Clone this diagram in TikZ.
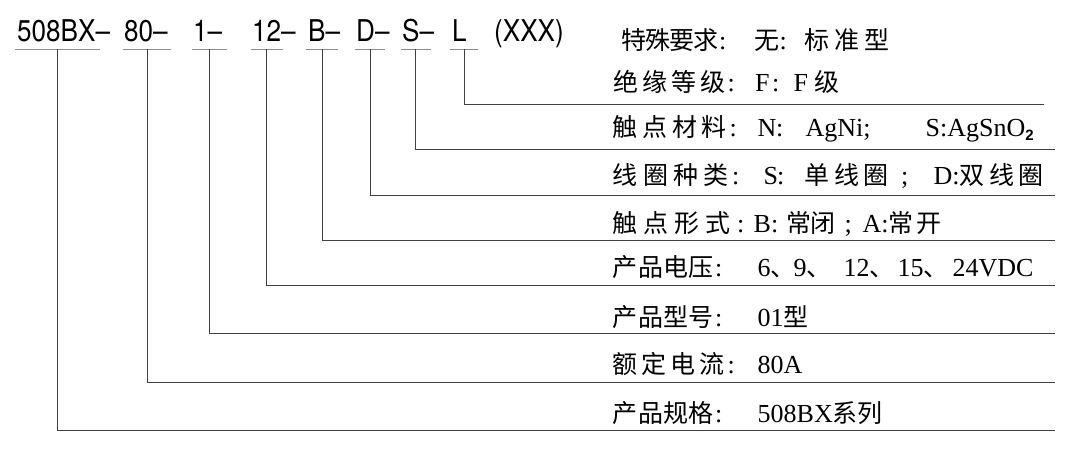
\documentclass[tikz,border=0pt]{standalone}
\usepackage{fontspec}
\setmainfont{Liberation Serif}
\newfontfamily\cjk{Noto Sans CJK SC}
\newfontfamily\hdrfont[FakeStretch=0.87]{TeX Gyre Heros}
\newfontfamily\lsans{Liberation Sans}
\newcommand\C[1]{{\cjk\fontsize{25}{25}\selectfont #1}}
\newcommand\at[2]{\rlap{\hspace*{#1pt}#2}}
\makeatletter
\def\spl#1#2{\def\spl@p{#1}\spl@x#2\relax}
\def\spl@x#1{\ifx\relax#1\else\rlap{\C{#1}}\hspace*{\spl@p pt}\expandafter\spl@x\fi}
\makeatother
\newcommand\subtwo{\raisebox{-4pt}{\lsans\bfseries\fontsize{15}{15}\selectfont 2}}
\tikzset{
  hdr/.style={anchor=base west, inner sep=0pt, font=\hdrfont\fontsize{30}{30}\selectfont},
  lbl/.style={anchor=base west, inner sep=0pt, font=\fontsize{26}{26}\selectfont},
  uline/.style={draw=black!45, line width=1.5pt},
  conn/.style={draw=black!75, line width=1pt}
}
\begin{document}
\begin{tikzpicture}[x=1pt,y=-1pt]
\useasboundingbox (0,0) rectangle (1088,454);
% header tokens
\node[hdr] (h1) at (17,42)  {508BX–};
\node[hdr] (h2) at (124,42) {80–};
\node[hdr] (h3) at (193,42) {1–};
\node[hdr] (h4) at (252,42) {12–};
\node[hdr] (h5) at (308,42) {B–};
\node[hdr] (h6) at (356,42) {D–};
\node[hdr] (h7) at (402,42) {S–};
\node[hdr] (h8) at (452,42) {L};
\node[hdr] (h9) at (494,42) {(XXX)};
% underlines
\draw[uline] (14.5,49.5) -- (100,49.5);
\draw[uline] (122.5,49.5) -- (170.7,49.5);
\draw[uline] (192,49.5) -- (226.5,49.5);
\draw[uline] (251,49.5) -- (283,49.5);
\draw[uline] (306,49.5) -- (338,49.5);
\draw[uline] (355,49.5) -- (385,49.5);
\draw[uline] (401,49.5) -- (431,49.5);
\draw[uline] (450,49.5) -- (478,49.5);
% underline centres
\coordinate (u1) at (57.5,49.5);
\coordinate (u2) at (147,49.5);
\coordinate (u3) at (209,49.5);
\coordinate (u4) at (266.4,49.5);
\coordinate (u5) at (322,49.5);
\coordinate (u6) at (370,49.5);
\coordinate (u7) at (415.6,49.5);
\coordinate (u8) at (464.6,49.5);
% line ends
\coordinate (e8) at (1044,104.5);
\coordinate (e7) at (1055,150);
\coordinate (e6) at (1055,196);
\coordinate (e5) at (1055,240.7);
\coordinate (e4) at (1055,286);
\coordinate (e3) at (1055,334);
\coordinate (e2) at (1055,382.7);
\coordinate (e1) at (1055,431);
\foreach \i in {1,...,8} { \draw[conn] (u\i) |- (e\i); }
% labels
\node[lbl] (r1) at (620.5,50) {\at{0}{\spl{24}{特殊要求}}\at{98}{:}\at{133.5}{\C{无}}\at{158.5}{:}\at{183.5}{\spl{30}{标准型}}};
\node[lbl] (r2) at (612.5,91.7) {\at{0}{\spl{29}{绝缘等级}}\at{114.5}{:}\at{142}{F}\at{159}{:}\at{180.5}{F}\at{201.5}{\C{级}}};
\node[lbl] (r3) at (612,136.7) {\at{0}{\spl{29.7}{触点材料}}\at{117}{:}\at{145}{N}\at{163.5}{:}\at{193}{AgNi;}\at{313}{S:AgSnO\subtwo}};
\node[lbl] (r4) at (612,185) {\at{0}{\spl{30.3}{线圈种类}}\at{119.5}{:}\at{151}{S}\at{164.5}{:}\at{192}{\spl{29.5}{单线圈}}\at{288.5}{;}\at{321}{D:\spl{29.5}{双线圈}}};
\node[lbl] (r5) at (612,233) {\at{0}{\spl{31}{触点形式}}\at{124.5}{:}\at{141}{B:}\at{174}{\spl{23.5}{常闭}}\at{232}{;}\at{250}{A:\spl{28}{常开}}};
\node[lbl] (r6) at (612,277) {\at{0}{\spl{25.3}{产品电压}}\at{102.5}{:}\at{145}{6\C{、}}\at{181}{9\C{、}}\at{231}{12\C{、}}\at{285}{15\C{、}}\at{340}{24VDC}};
\node[lbl] (r7) at (612,327) {\at{0}{\spl{25.3}{产品型号}}\at{102.5}{:}\at{145}{01\C{型}}};
\node[lbl] (r8) at (612,373.5) {\at{0}{\spl{29}{额定电流}}\at{115}{:}\at{145}{80A}};
\node[lbl] (r9) at (612,423) {\at{0}{\spl{25.3}{产品规格}}\at{102.5}{:}\at{145}{508BX\C{系列}}};
\end{tikzpicture}
\end{document}
